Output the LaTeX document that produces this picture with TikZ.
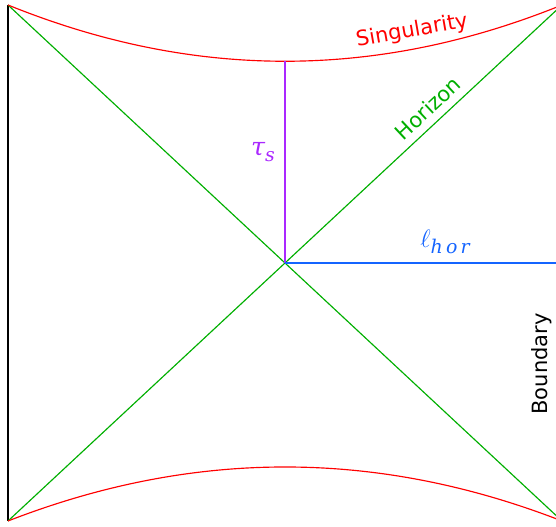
\documentclass[tikz,border=0pt]{standalone}
\usepackage{fontspec}
\setmainfont{DejaVu Sans}
\newfontfamily\symfont{DejaVu Serif}
\usepackage{tikz}
\definecolor{myred}{RGB}{255,0,0}
\definecolor{mygreen}{RGB}{0,175,0}
\definecolor{mypurple}{RGB}{170,40,255}
\definecolor{myblue}{RGB}{20,100,255}
\newcommand{\lowsub}[1]{\raisebox{-0.4ex}{\small #1}}
\tikzset{
    pdline/.style={line width=0.55pt},
    pdlabel/.style={inner sep=0pt, font=\normalsize},
    pdsym/.style={inner sep=0pt, font=\large\symfont\itshape},
}
\begin{document}
\begin{tikzpicture}[x=0.476pt,y=-0.476pt]
  \useasboundingbox (0,0) rectangle (556,527);
  % corners of the diagram
  \coordinate (TL) at (8,5);
  \coordinate (BL) at (8,521);
  \coordinate (TR) at (562,5);
  \coordinate (BR) at (562,521);
  \coordinate (C) at (285,263);
  \coordinate (S) at (285,61);
  \coordinate (E) at (562,263);
  % boundary
  \draw[black, line width=0.7pt] (TL) -- (BL);
  % horizons
  \draw[mygreen, pdline] (TL) -- (BR);
  \draw[mygreen, pdline] (BL) -- (TR);
  % singularities
  \draw[myred, pdline] (TL) .. controls (193,80) and (377,80) .. (TR);
  \draw[myred, pdline] (BL) .. controls (193,449) and (377,449) .. (BR);
  % tau_s and l_hor
  \draw[mypurple, line width=1pt] (S) -- (C);
  \draw[myblue, pdline] (C) -- (E);
  % LABELS
  \node[pdlabel, myred, rotate=10] (singlab) at (412,31) {Singularity};
  \node[pdlabel, mygreen, rotate=43] (horlab) at (428,108) {Horizon};
  \node[pdsym, mypurple] (taulab) at (263,152) {τ\lowsub{s}};
  \node[pdsym, myblue] (elllab) at (445,242) {$\ell$\lowsub{h\,o\,r}};
  \node[pdlabel, black, rotate=90] (bndlab) at (542,364) {Boundary};
\end{tikzpicture}
\end{document}
